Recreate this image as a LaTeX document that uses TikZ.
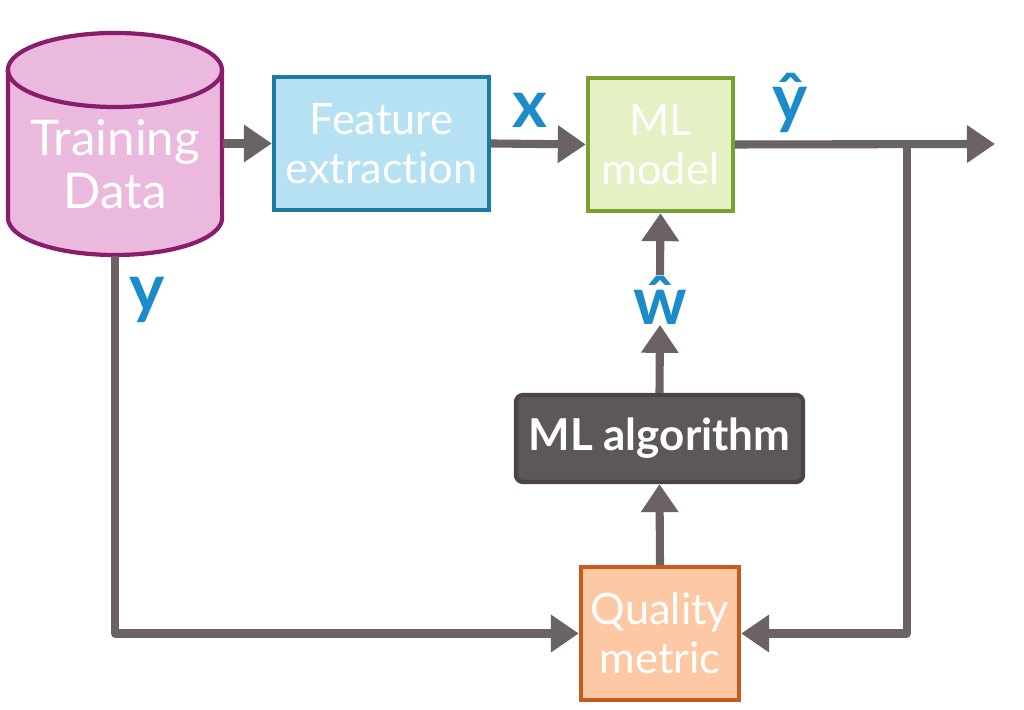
\documentclass[tikz,border=0pt]{standalone}
\usepackage{fontspec}
\setmainfont{Lato}[RawFeature=-liga]
\usepackage{tikz}
\usetikzlibrary{arrows.meta,positioning}
\definecolor{datafill}{HTML}{EBB9DE}
\definecolor{databorder}{HTML}{8A1C6C}
\definecolor{featfill}{HTML}{B5E1F2}
\definecolor{featborder}{HTML}{1A7CA3}
\definecolor{modelfill}{HTML}{E4F1C4}
\definecolor{modelborder}{HTML}{78A22F}
\definecolor{algofill}{HTML}{5E5757}
\definecolor{algoborder}{HTML}{4A4444}
\definecolor{qualfill}{HTML}{FDC9A5}
\definecolor{qualborder}{HTML}{C75B1E}
\definecolor{flowgray}{HTML}{6A6263}
\definecolor{varblue}{HTML}{1B8BC9}

\begin{document}
\begin{tikzpicture}[x=0.01cm,y=0.01cm,
  block/.style={draw, line width=1.2pt, minimum height=1.33cm, inner sep=0pt,
    align=center, text=white, font=\fontsize{12.3}{14}\selectfont},
  flow/.style={draw=flowgray, line width=2.3pt, line join=round,
    -{Triangle[length=0.28cm,width=0.36cm]}},
  var/.style={text=varblue, inner sep=0pt, font=\fontsize{19}{19}\selectfont\bfseries}]
\useasboundingbox (0,0) rectangle (1024,710);

% training data drum
\node[minimum width=2.14cm, minimum height=2.22cm, inner sep=0pt] (data) at (115,566) {};
\filldraw[fill=datafill, draw=databorder, line width=1.2pt]
  (8,640) -- (8,492) arc[start angle=180, end angle=360, x radius=1.07cm, y radius=0.37cm]
  -- (222,640) arc[start angle=0, end angle=180, x radius=1.07cm, y radius=0.37cm] -- cycle;
\draw[databorder, line width=1.2pt]
  (8,640) arc[start angle=180, end angle=360, x radius=1.07cm, y radius=0.37cm];
\node[text=white, align=center, font=\fontsize{14}{15}\selectfont] (datatext) at (115,546) {Training\\Data};

% blocks
\node[block, fill=featfill, draw=featborder, minimum width=2.15cm] (feature) at (381.5,566.5) {Feature\\extraction};
\node[block, fill=modelfill, draw=modelborder, minimum width=1.45cm] (model) at (660.5,565.5) {ML\\model};
\node[block, fill=algofill, draw=algoborder, minimum width=2.87cm, minimum height=0.87cm,
  rounded corners=2pt, font=\fontsize{12.5}{13}\selectfont\bfseries] (algo) at (659.5,271.5) {ML algorithm};
\node[block, fill=qualfill, draw=qualborder, minimum width=1.58cm] (quality) at (660,76.5) {Quality\\metric};

% variables
\node[var] (x) at (530,600) {x};
\node[var] (yhat) at (790,607) {\^{y}};
\node[var] (what) at (660,410) {\^{w}};
\node[var] (y) at (147,410) {y};
\coordinate (out) at (995,566);
\coordinate (split) at (907,566);

% connectors
\draw[flow] (data.east |- feature.west) -- (feature.west);
\draw[flow] (feature.east) -- (model.west);
\draw[flow] (model.east) -- (out);
\draw[flow] (split) |- (quality.east);
\draw[flow] (data.south) |- (quality.west);
\draw[flow] (quality.north) -- (algo.south);
\draw[flow] (algo.north) -- (what.south);
\draw[flow] (what.north) -- (model.south);
\end{tikzpicture}
\end{document}
